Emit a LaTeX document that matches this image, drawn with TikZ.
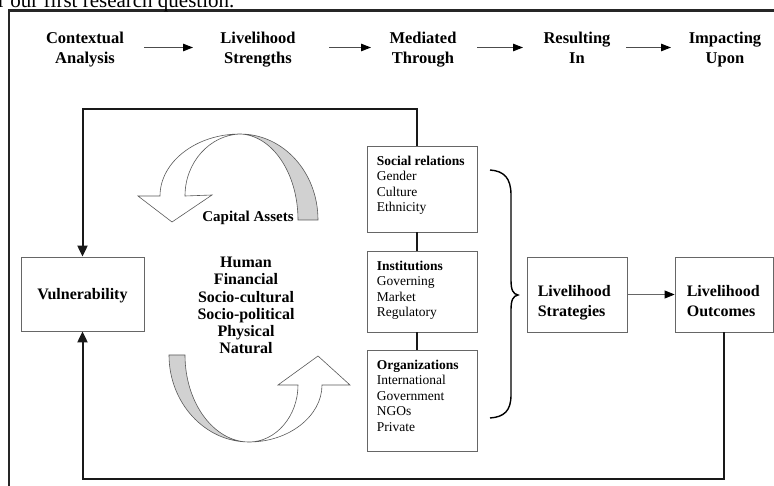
\documentclass[tikz,border=0pt]{standalone}
\usepackage{fontspec}
\setmainfont{Liberation Serif}
\usepackage{tikz}
\usetikzlibrary{positioning,arrows.meta,calc}

\begin{document}
\begin{tikzpicture}[x=1pt,y=-1pt,
  box/.style={draw=black!60, line width=0.8pt, fill=white, inner sep=0pt},
  head/.style={font=\fontsize{16.5}{20}\selectfont\bfseries, align=center, inner sep=0pt, anchor=north},
  item/.style={font=\fontsize{13.5}{15.5}\selectfont, align=left, inner sep=0pt, anchor=north west},
  big/.style={font=\fontsize{16}{20}\selectfont\bfseries, align=left, inner sep=0pt},
  link/.style={line width=2pt, black!90},
  hdarrow/.style={-{Triangle[length=10pt,width=7.5pt,color=black]}, line width=1.1pt, black!70},
  ribbon/.style={draw=black!65, line width=0.6pt},
]
\useasboundingbox (0,0) rectangle (774,486);

% Frame and cut-off caption
\draw[line width=2.4pt, black!85] (9,530) -- (9,10.5) -- (800,10.5);
\node[anchor=base west, inner sep=0pt, font=\fontsize{21}{24}\selectfont] (intro) at (-2,7.5) {r our first research question.};

% Header
\node[head] (ctx) at (85,31.5) {Contextual\\Analysis};
\node[head] (str) at (258,31.5) {Livelihood\\Strengths};
\node[head] (med) at (423,31.5) {Mediated\\Through};
\node[head] (res) at (577,31.5) {Resulting\\In};
\node[head] (imp) at (725,31.5) {Impacting\\Upon};
\foreach \a/\b/\s/\e in {ctx/str/59pt/65pt, str/med/71pt/52pt, med/res/54pt/54pt, res/imp/49pt/54pt}
    \draw[hdarrow, shorten <=\s, shorten >=\e] (\a.north |- 0,47.5) -- (\b.north |- 0,47.5);

% Boxes
\node[box, big, text depth=0pt, minimum width=123pt, minimum height=74pt] (vul) at (82.5,294) {Vulnerability};
\node[box, minimum width=110pt, minimum height=86pt] (soc) at (422,189) {};
\node[box, minimum width=110pt, minimum height=81pt] (ins) at (422,291.5) {};
\node[box, minimum width=110pt, minimum height=101pt] (org) at (422,400.5) {};
\node[box, minimum width=100pt, minimum height=75pt] (lst) at (577,294.5) {};
\node[box, minimum width=98pt, minimum height=75pt] (lout) at (724,294.5) {};

\node[item] (soc-t) at ([shift={(10,10)}]soc.north west) {\textbf{Social relations}\\Gender\\Culture\\Ethnicity};
\node[item] (ins-t) at ([shift={(10,10)}]ins.north west) {\textbf{Institutions}\\Governing\\Market\\Regulatory};
\node[item] (org-t) at ([shift={(10,10)}]org.north west) {\textbf{Organizations}\\International\\Government\\NGOs\\Private};
\node[big, anchor=north west] (lst-t) at ([shift={(11,29)}]lst.north west) {Livelihood\\Strategies};
\node[big, anchor=north west] (lout-t) at ([shift={(12,29)}]lout.north west) {Livelihood\\Outcomes};

% Links
\draw[link] ([xshift=-5pt]soc.south) -- ([xshift=-5pt]ins.north);
\draw[link] ([xshift=-5pt]ins.south) -- ([xshift=-5pt]org.north);
\draw[link, -{Triangle[length=11pt,width=10pt]}] ([xshift=-5pt]soc.north) -- ([xshift=-5pt]soc.north |- 0,109) -| (vul.north);
\draw[link, -{Triangle[length=11pt,width=10pt]}] (lout.south) -- (lout.south |- 0,479) -| (vul.south);
\draw[-{Triangle[length=10pt,width=8pt,color=black]}, line width=0.8pt, black!60] (lst) -- (lout);

% Brace
\draw[line width=1.4pt] (490,170) .. controls (504,171) and (511,178) .. (511,195) -- (511,280)
    .. controls (511,290) and (513,294) .. (518,295) .. controls (513,296) and (511,300) .. (511,310)
    -- (511,395) .. controls (511,411) and (504,417) .. (490,418);

% Capital assets cycle
\draw[ribbon, fill=white] (160,196) .. controls (160,162) and (196,134) .. (240,134)
    .. controls (210,135) and (185,162) .. (185,196) -- (212,195) -- (172,222) -- (138,196) -- cycle;
\draw[ribbon, fill=black!18] (240,134) .. controls (283,134) and (318,172) .. (318,220)
    -- (298,220) .. controls (298,173) and (272,135) .. (240,134) -- cycle;
\draw[ribbon, fill=black!18] (169,355) -- (185,355) .. controls (185,403) and (214,442) .. (249,442)
    .. controls (205,442) and (169,403) .. (169,355) -- cycle;
\draw[ribbon, fill=white] (249,442) .. controls (289,442) and (322,416) .. (322,385) -- (350,385)
    -- (318,356) -- (278,385) -- (298,385) .. controls (298,416) and (276,442) .. (249,442) -- cycle;

\node[font=\fontsize{15}{18}\selectfont\bfseries, inner sep=0pt, anchor=base] (cap) at (248,222) {Capital Assets};
\node[font=\fontsize{16}{17.2}\selectfont\bfseries, align=center, inner sep=0pt, anchor=north] (kinds) at (246,257) {Human\\Financial\\Socio-cultural\\Socio-political\\Physical\\Natural};
\end{tikzpicture}
\end{document}
